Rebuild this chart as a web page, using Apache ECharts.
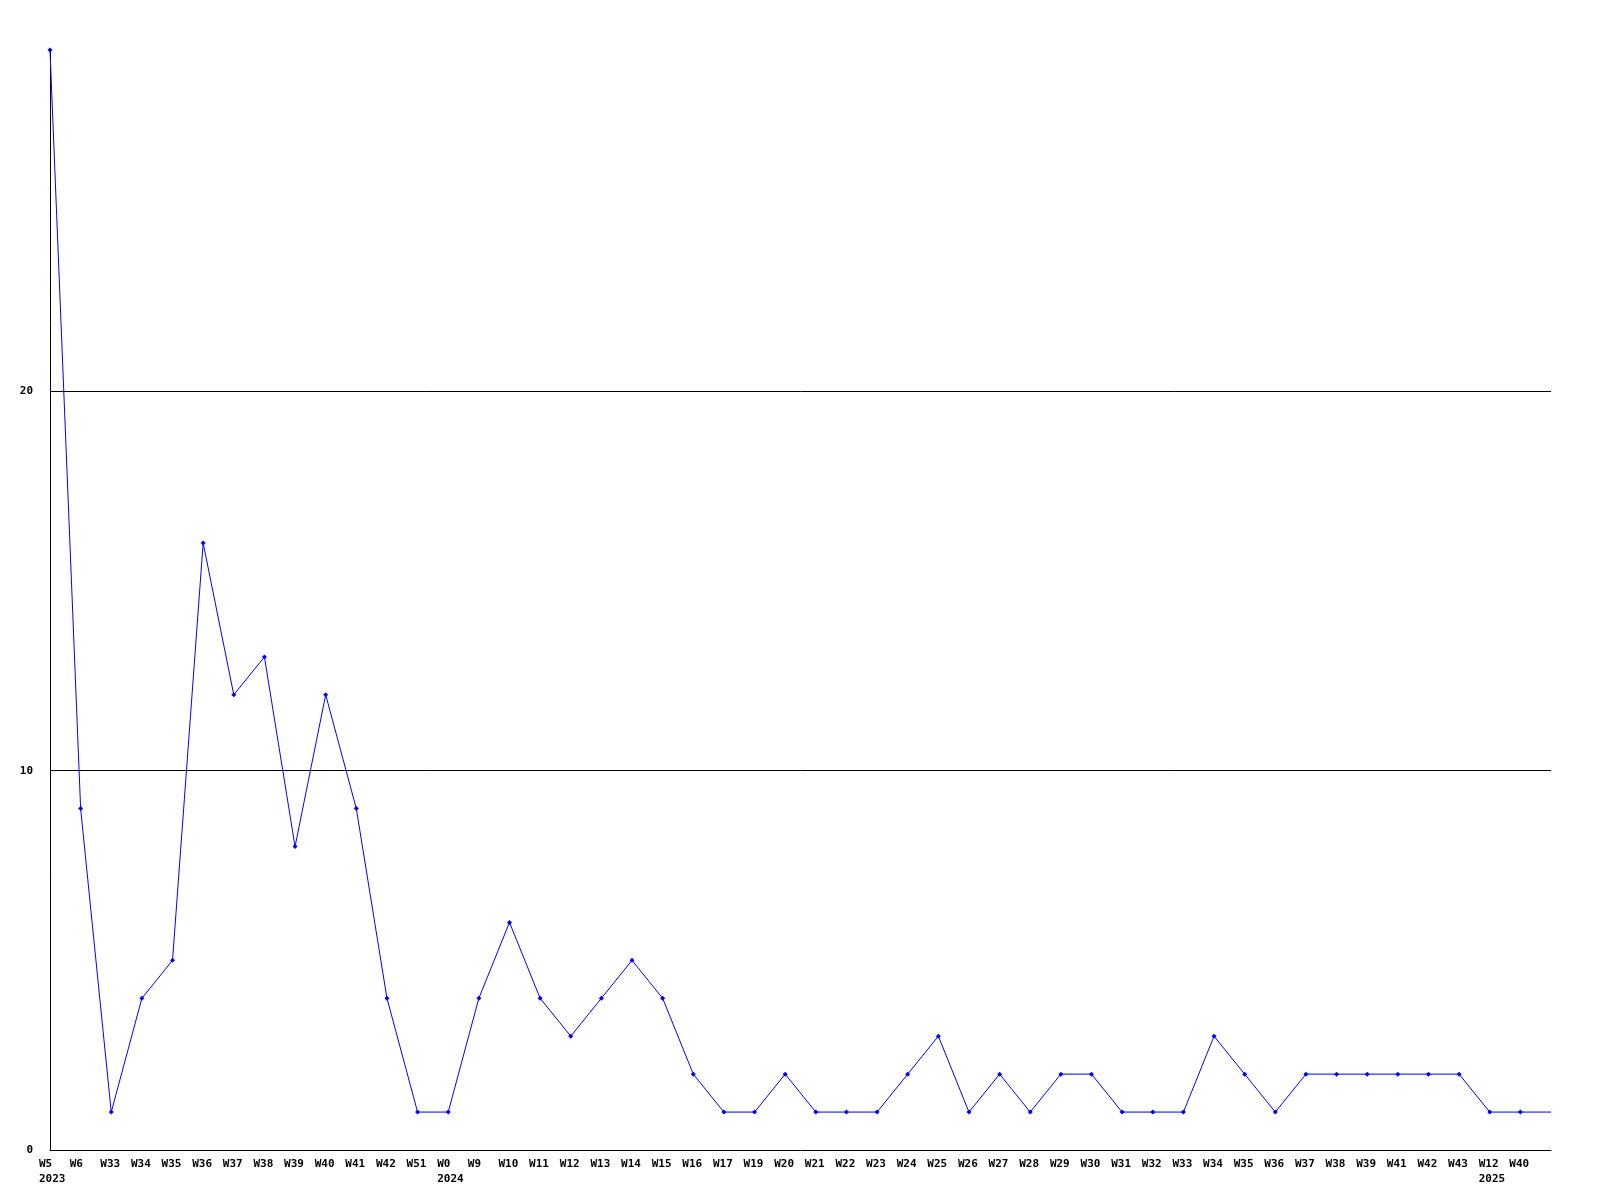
<!DOCTYPE html>
<html>
<head>
<meta charset="utf-8">
<script src="https://cdn.jsdelivr.net/npm/echarts@6/dist/echarts.min.js"></script>
<style>html,body{margin:0;padding:0;background:#fff}#c{width:1600px;height:1200px}</style>
</head>
<body>
<div id="c"></div>
<script>
const weeks = ["W5","W6","W33","W34","W35","W36","W37","W38","W39","W40","W41","W42","W51","W0","W9","W10","W11","W12","W13","W14","W15","W16","W17","W19","W20","W21","W22","W23","W24","W25","W26","W27","W28","W29","W30","W31","W32","W33","W34","W35","W36","W37","W38","W39","W41","W42","W43","W12","W40",""];
const years = {0:"2023",13:"2024",47:"2025"};
const values = [29,9,1,4,5,16,12,13,8,12,9,4,1,1,4,6,4,3,4,5,4,2,1,1,2,1,1,1,2,3,1,2,1,2,2,1,1,1,3,2,1,2,2,2,2,2,2,1,1,1];
const yTicks = [0,10,20];

const categories = weeks.map((w,i)=> years[i] ? w + "\n" + years[i] : w);
const seriesData = values.map((v,i)=> i === values.length-1 ? {value:v, symbol:'none'} : v);

const chart = echarts.init(document.getElementById('c'), null, {renderer:'canvas'});
chart.setOption({
  animation:false,
  backgroundColor:'#fff',
  grid:{left:50, right:49, top:50, bottom:50, containLabel:false},
  xAxis:{
    type:'category', data:categories, boundaryGap:false,
    axisLine:{show:true, lineStyle:{color:'#000', width:1}},
    axisTick:{show:false},
    splitLine:{show:false},
    axisLabel:{interval:0, hideOverlap:false, align:'left', padding:[0,0,0,-11], margin:7, lineHeight:15,
      color:'#000', fontFamily:'DejaVu Sans Mono', fontWeight:'bold', fontSize:11}
  },
  yAxis:{
    type:'value', min:0, max:29, interval:10,
    axisLine:{show:true, lineStyle:{color:'#000', width:1}},
    axisTick:{show:false},
    splitLine:{show:true, showMinLine:false, showMaxLine:false, lineStyle:{color:'#000', width:1}},
    axisLabel:{showMaxLabel:false, margin:17, color:'#000', fontFamily:'DejaVu Sans Mono', fontWeight:'bold', fontSize:11,
      formatter:v=> yTicks.includes(v) ? String(v) : ''}
  },
  series:[{
    type:'line', data:seriesData, symbol:'diamond', symbolSize:5, showAllSymbol:true,
    lineStyle:{color:'#0000ff', width:1}, itemStyle:{color:'#0000ff'}
  }]
});
</script>
</body>
</html>
